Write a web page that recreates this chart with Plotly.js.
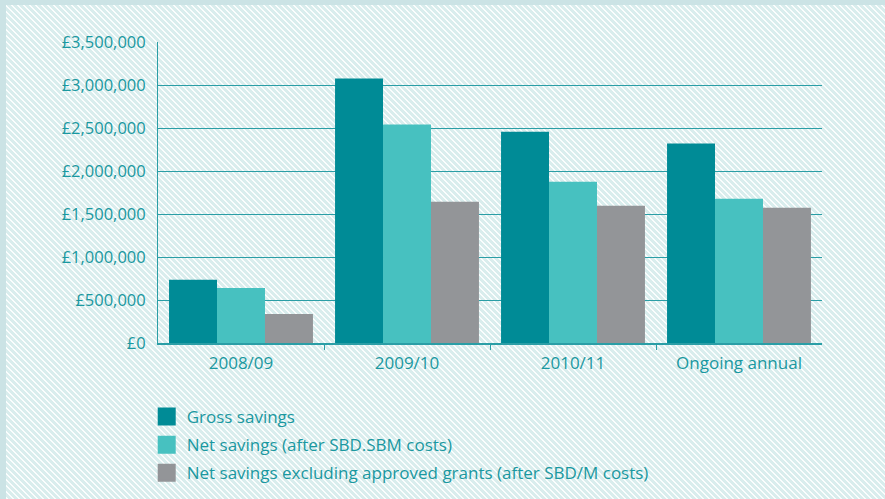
<!DOCTYPE html>
<html>
<head>
<meta charset="utf-8">
<script src="https://cdn.plot.ly/plotly-3.0.1.min.js"></script>
<style>
  html, body { margin: 0; padding: 0; }
  body {
    width: 885px; height: 499px; overflow: hidden; box-sizing: border-box;
    border-top: 5px solid #cbe3e5; border-left: 6px solid #cbe3e5;
    background-color: #d9eded;
    background-image: linear-gradient(45deg, #fafdfd 0%, #fafdfd 16%, #d9eded 16%, #d9eded 50%, #fafdfd 50%, #fafdfd 66%, #d9eded 66%, #d9eded 100%);
    background-size: 6px 6px;
  }
  #chart { position: absolute; left: 0; top: 0; width: 885px; height: 512px; }
</style>
</head>
<body>
<div id="chart"></div>
<script>
const categories = ['2008/09', '2009/10', '2010/11', 'Ongoing annual'];
const seriesNames = ['Gross savings', 'Net savings (after SBD.SBM costs)', 'Net savings excluding approved grants (after SBD/M costs)'];
const grossSavings = [735000, 3075000, 2455000, 2320000];
const netSavings = [640000, 2540000, 1875000, 1677000];
const netExclGrants = [338000, 1642000, 1596000, 1572000];
const yTickVals = [0, 500000, 1000000, 1500000, 2000000, 2500000, 3000000, 3500000];
const yTickText = ['£0', '£500,000', '£1,000,000', '£1,500,000', '£2,000,000', '£2,500,000', '£3,000,000', '£3,500,000'];
const gridVals = [500000, 1000000, 1500000, 2000000, 2500000, 3000000];
const colors = ['#008b96', '#47c1c0', '#939598'];
const textColor = '#1a98a0';
const lineColor = '#2a9ea6';

const values = [grossSavings, netSavings, netExclGrants];
const traces = values.map((v, i) => ({
  type: 'bar', x: categories, y: v, name: seriesNames[i],
  marker: { color: colors[i] }, showlegend: false, xaxis: 'x', yaxis: 'y',
  hoverinfo: 'x+y'
}));
// legend swatches
seriesNames.forEach((n, i) => traces.push({
  type: 'scatter', mode: 'markers', x: [null], y: [null], name: n,
  legendgroup: 'g' + i, xaxis: 'x2', yaxis: 'y2',
  marker: { symbol: 'square', size: 16, color: colors[i], line: { color: colors[i], width: 2 } }
}));

const yRange = [0, 3500000];
const layout = {
  width: 885, height: 512,
  margin: { l: 158, r: 63, t: 42, b: 169 },
  paper_bgcolor: 'rgba(0,0,0,0)', plot_bgcolor: 'rgba(0,0,0,0)',
  font: { family: 'Open Sans, sans-serif', color: textColor, size: 16 },
  barmode: 'group', bargap: 0.133, bargroupgap: 0,
  xaxis: {
    type: 'category', showgrid: false, ticks: '', showline: true, linecolor: lineColor, linewidth: 1.5,
    tickfont: { size: 17, color: textColor }, ticklabelstandoff: 4, range: [-0.5, 3.5], fixedrange: true,
    tickangle: 0, automargin: false
  },
  xaxis2: {
    overlaying: 'x', side: 'bottom', range: [-0.5, 3.5], tickvals: [0.5, 1.5, 2.5], showticklabels: false,
    ticks: 'outside', ticklen: 6, tickcolor: lineColor, tickwidth: 1, showgrid: false, zeroline: false, showline: false
  },
  yaxis: {
    range: yRange, tickvals: yTickVals, ticktext: yTickText, showgrid: false, zeroline: false,
    showline: true, linecolor: lineColor, linewidth: 1, ticks: '', ticklabelstandoff: 8,
    tickfont: { size: 16.5, color: textColor }, fixedrange: true, automargin: false
  },
  yaxis2: {
    overlaying: 'y', range: yRange, tickvals: gridVals, showticklabels: false, showgrid: true,
    gridcolor: lineColor, gridwidth: 1, zeroline: false, showline: false, ticks: ''
  },
  legend: {
    x: -0.017, xanchor: 'left', y: -0.186, yanchor: 'top', orientation: 'v',
    traceorder: 'grouped', tracegroupgap: 3, bgcolor: 'rgba(0,0,0,0)',
    font: { size: 17, color: textColor }
  },
  showlegend: true
};
Plotly.newPlot('chart', traces, layout, { displayModeBar: false, staticPlot: true });
</script>
</body>
</html>
